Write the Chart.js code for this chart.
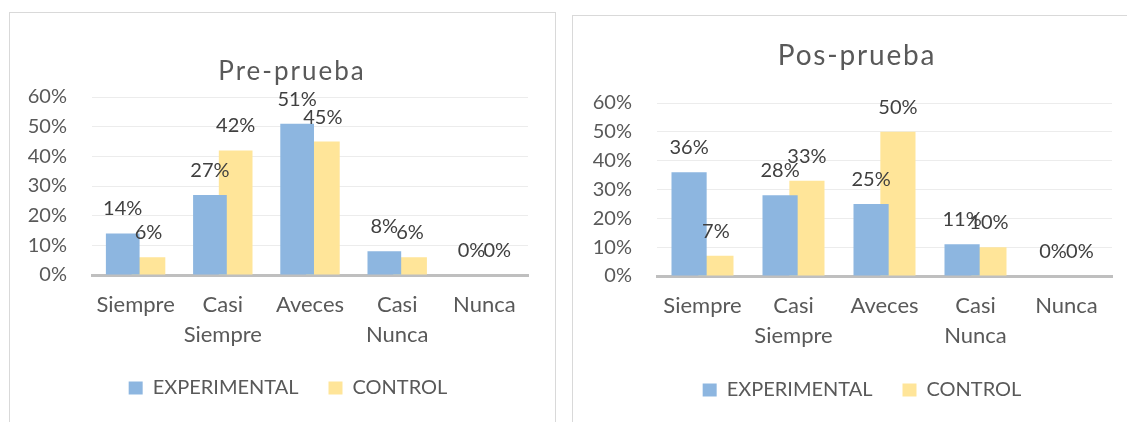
<!DOCTYPE html>
<html>
<head>
<meta charset="utf-8">
<script src="https://cdn.jsdelivr.net/npm/chart.js@4/dist/chart.umd.min.js"></script>
<style>
  body { margin: 0; background: #fff; width: 1127px; height: 422px; overflow: hidden; position: relative; }
  .box { position: absolute; border: 1px solid #d9d9d9; background: #fff; }
  #boxPre { left: 9px; top: 12px; width: 545px; height: 420px; }
  #boxPos { left: 572px; top: 15px; width: 560px; height: 420px; }
  canvas { display: block; }
</style>
</head>
<body>
<div class="box" id="boxPre"><canvas id="preChart" width="551" height="409"></canvas></div>
<div class="box" id="boxPos"><canvas id="posChart" width="573" height="406"></canvas></div>
<script>
// Categories and percentages for both surveys
const categories = ['Siempre', ['Casi', 'Siempre'], 'Aveces', ['Casi', 'Nunca'], 'Nunca'];
const seriesNames = ['EXPERIMENTAL', 'CONTROL'];
const preExperimental = [14, 27, 51, 8, 0];
const preControl = [6, 42, 45, 6, 0];
const posExperimental = [36, 28, 25, 11, 0];
const posControl = [7, 33, 50, 10, 0];
const yMax = 60;
const yStep = 10;

const FONT = 'Lato';
const colors = ['#8db6e0', '#ffe599'];

// value labels drawn above each bar
const barLabels = {
  id: 'barLabels',
  afterDatasetsDraw(chart) {
    const ctx = chart.ctx;
    ctx.save();
    ctx.font = `20px ${FONT}`;
    ctx.fillStyle = '#404040';
    ctx.textAlign = 'center';
    ctx.textBaseline = 'alphabetic';
    chart.data.datasets.forEach((ds, i) => {
      chart.getDatasetMeta(i).data.forEach((bar, j) => {
        ctx.fillText(ds.data[j] + '%', bar.x, bar.y - 18);
      });
    });
    ctx.restore();
  }
};

// title with letter spacing
const spacedTitle = {
  id: 'spacedTitle',
  afterDraw(chart, args, opts) {
    const ctx = chart.ctx;
    ctx.save();
    ctx.font = `${opts.size}px ${FONT}`;
    ctx.letterSpacing = opts.spacing + 'px';
    ctx.fillStyle = '#595959';
    ctx.textAlign = 'center';
    ctx.fillText(opts.text, opts.x, opts.y);
    ctx.restore();
  }
};

function makeChart(id, title, expData, ctrlData, g) {
  const ctx = document.getElementById(id).getContext('2d');
  return new Chart(ctx, {
    type: 'bar',
    data: {
      labels: categories,
      datasets: [
        { label: seriesNames[0], data: expData, backgroundColor: colors[0] },
        { label: seriesNames[1], data: ctrlData, backgroundColor: colors[1] }
      ]
    },
    options: {
      responsive: false,
      animation: false,
      categoryPercentage: 0.59,
      barPercentage: 1.31,
      layout: { padding: g.padding },
      scales: {
        x: {
          grid: { display: false, drawTicks: false },
          border: { color: '#bfbfbf', width: 3 },
          ticks: { color: '#595959', font: { family: FONT, size: 22, lineHeight: 1.36 }, padding: 15, maxRotation: 0, autoSkip: false },
          afterFit(scale) { scale.height = g.xHeight; }
        },
        y: {
          min: 0,
          max: yMax,
          grid: { color: '#ececec', lineWidth: 1, drawTicks: false },
          border: { display: false },
          ticks: { stepSize: yStep, color: '#595959', font: { family: FONT, size: 20 }, padding: 25, callback: v => v + '%' },
          afterFit(scale) { scale.width = g.yWidth; }
        },
        // empty strip on the right so the legend sits centred on the whole box
        spacer: {
          type: 'linear',
          position: 'right',
          grid: { display: false },
          border: { display: false },
          ticks: { display: false },
          afterFit(scale) { scale.width = g.rightGap; }
        }
      },
      plugins: {
        legend: {
          position: 'bottom',
          labels: { boxWidth: 14, boxHeight: 13, padding: 30, color: '#595959', font: { family: FONT, size: 20 } }
        },
        tooltip: { enabled: false },
        spacedTitle: { text: title, x: g.titleX, y: g.titleY, size: g.titleSize, spacing: g.titleSpacing }
      }
    },
    plugins: [barLabels, spacedTitle]
  });
}

window.addEventListener('load', () => {
  makeChart('preChart', 'Pre-prueba', preExperimental, preControl, {
    padding: { top: 84, left: 5, right: 0, bottom: 14 },
    yWidth: 77, xHeight: 73, rightGap: 33,
    titleX: 282, titleY: 59, titleSize: 26, titleSpacing: 2
  });
  makeChart('posChart', 'Pos-prueba', posExperimental, posControl, {
    padding: { top: 87, left: 5, right: 0, bottom: 12 },
    yWidth: 79, xHeight: 74, rightGap: 34,
    titleX: 284, titleY: 40, titleSize: 28, titleSpacing: 1.8
  });
});
</script>
</body>
</html>
